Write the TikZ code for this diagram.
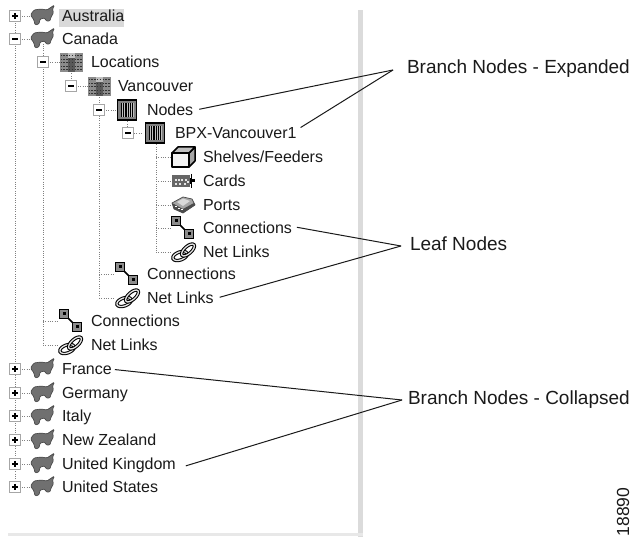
\documentclass[tikz,border=0pt]{standalone}
\usepackage{fontspec}
\setmainfont{Liberation Sans}
\definecolor{ink}{HTML}{1A1A1A}
\definecolor{mapg}{HTML}{707070}
\tikzset{
 x=1pt,y=-1pt,
 tree/.style={draw=black!50,line width=0.8pt,dash pattern=on 1pt off 1.3pt},
 lead/.style={draw=ink,line width=1pt},
 xbox/.style={draw=black!35,fill=white,line width=1pt,minimum size=10.5pt,inner sep=0pt,outer sep=0pt},
 rowtext/.style={anchor=base west,inner sep=0pt,outer sep=0pt,text=ink,font=\fontsize{16}{18}\selectfont},
 calltext/.style={anchor=base west,inner sep=0pt,outer sep=0pt,text=ink,font=\fontsize{19}{21}\selectfont},
 mapicon/.pic={
  \path[fill=mapg,draw=black!70,line width=.7pt,line join=round,rounded corners=1.2pt] (-11.5,-1) -- (-8,-6) -- (-1,-7) -- (5,-6) -- (8,-8) -- (12.5,-11) -- (10.5,-7) -- (11.5,-3) -- (9,1) -- (8,5) -- (4,5) -- (3,2) -- (-2,3) -- (-3,8) -- (-7,9) -- (-8,4) -- cycle;
 },
 bldicon/.pic={
  \fill[black!45] (-11.5,-9) rectangle (-3,10);
  \fill[black!45] (3.5,-9) rectangle (12,10);
  \fill[black!65] (-3,-4) rectangle (3.5,10);
  \fill[black!25] (-3,-9) rectangle (3.5,-4);
  \foreach \a in {-6,-2.5,1,4.5,8}{
   \draw[black!80,line width=1pt,dash pattern=on 1.5pt off 1.3pt] (-10.5,\a) -- (11.5,\a);
  }
 },
 rackicon/.pic={
  \fill[black!50] (-9.5,-10) rectangle (9.5,10);
  \draw[black,line width=1.3pt] (-9.5,-10) rectangle (9.5,10);
  \fill[black!25] (-6.5,-7) rectangle (6.5,7);
  \foreach \a in {-5.4,-3.2,-1,1.2,3.4,5.6}{\draw[black,line width=1.3pt] (\a,-7) -- (\a,7);}
 },
 cubeicon/.pic={
  \path[fill=black!5,draw=black,line width=1.5pt,line join=round] (-11,-4) -- (6,-4) -- (6,10) -- (-11,10) -- cycle;
  \path[fill=black!35,draw=black,line width=1.5pt,line join=round] (6,-4) -- (12,-10) -- (12,4) -- (6,10) -- cycle;
  \path[fill=black!25,draw=black,line width=1.5pt,line join=round] (-11,-4) -- (-5,-10) -- (12,-10) -- (6,-4) -- cycle;
 },
 cardicon/.pic={
  \fill[black!60] (-11,-6) rectangle (7,6);
  \foreach \a/\b in {-8/-2,-5/-2,-2/-2,-8/2,-4/2,2/-2,1/2,4/0}{\fill[black!10] (\a,\b) rectangle ++(1.6,1.6);}
  \fill[black] (7,-3) rectangle (9,3);
  \fill[black] (9,-1.5) rectangle (12,1.5);
  \draw[black,line width=1pt] (8,-7) -- (8,7);
 },
 porticon/.pic={
  \path[fill=black!35,draw=black!70,line width=.7pt,line join=round] (-11,-2) -- (0,-8) -- (9,-6) -- (12,0) -- (0,8) -- (-9,4) -- cycle;
  \path[fill=black!15] (-6,-3) -- (0,-6.5) -- (7,-4) -- (0,1) -- cycle;
  \path[fill=black!70] (-9,4) -- (-11,-2) -- (0,4) -- (0,8) -- cycle;
  \path[fill=black!70] (0,8) -- (12,0) -- (11,-2) -- (0,4) -- cycle;
  \foreach \a/\b in {-8/1,-5/3,-2/4}{\fill[white] (\a,\b) rectangle ++(1.5,1.5);}
 },
 connicon/.pic={
  \draw[black,line width=1.5pt] (-5,-7) -- (8,6);
  \fill[black!45] (-10,-12) rectangle (-1,-3);
  \draw[black,line width=1.3pt] (-9.5,-11.5) rectangle (-.5,-2.5);
  \fill[black] (-6.5,-8.5) rectangle (-3.5,-5.5);
  \fill[black!45] (3.5,1.5) rectangle (12.5,10.5);
  \draw[black,line width=1.3pt] (3.5,1.5) rectangle (12.5,10.5);
  \fill[black] (6.5,4.5) rectangle (9.5,7.5);
 },
 linkicon/.pic={
  \draw[black,line width=3.4pt,shift={(-4,4)},rotate=20] (0,0) ellipse (7.5 and 4);
  \draw[black!10,line width=1.3pt,shift={(-4,4)},rotate=20] (0,0) ellipse (7.5 and 4);
  \draw[black,line width=3.4pt,shift={(4,-2)},rotate=42] (0,0) ellipse (8 and 3.6);
  \draw[black!10,line width=1.3pt,shift={(4,-2)},rotate=42] (0,0) ellipse (8 and 3.6);
 },
}
\newcommand{\xminus}[3]{\node[xbox] (#1) at (#2,#3) {}; \draw[black,line width=1.1pt] (#2-3,#3) -- (#2+3,#3);}
\newcommand{\xplus}[3]{\node[xbox] (#1) at (#2,#3) {}; \draw[black,line width=1.1pt] (#2-3,#3) -- (#2+3,#3) (#2,#3-3) -- (#2,#3+3);}
\begin{document}
\begin{tikzpicture}
\useasboundingbox (0,0) rectangle (633,537);
\fill[white] (0,0) rectangle (633,537);
% panel border
\fill[black!14] (358,10) rectangle (363,537);
\fill[black!9] (8,533.5) rectangle (363,536);
% highlight
\fill[black!15] (59,9) rectangle (124,27);
% tree coordinates
\coordinate (a15) at (15,16); \coordinate (b15) at (15,487);
\coordinate (a43) at (43,39); \coordinate (b43) at (43,345);
\coordinate (a71) at (71,62); \coordinate (b71) at (71,86);
\coordinate (a99) at (99,86); \coordinate (b99) at (99,298);
\coordinate (a127) at (127,110); \coordinate (b127) at (127,133);
\coordinate (a156) at (156,133); \coordinate (b156) at (156,252);
\draw[tree] (a15) -- (b15);
\draw[tree] (a43) -- (b43);
\draw[tree] (a71) -- (b71);
\draw[tree] (a99) -- (b99);
\draw[tree] (a127) -- (b127);
\draw[tree] (a156) -- (b156);
% horizontal dotted stubs
\foreach \x/\y/\e in {15/16/32,15/39/32,15/369/32,15/393/32,15/416/32,15/440/32,15/464/32,15/487/32,
 43/62/60,71/86/88,99/110/117,127/133/142,156/157/171,156/181/171,156/205/171,156/228/171,156/252/171,
 99/274/115,99/298/115,43/321/59,43/345/59}{
 \draw[tree] (\x,\y) -- (\e,\y);
}
% expanders
\xplus{e1}{15}{16}
\xminus{e2}{15}{39}
\xminus{e3}{43}{62}
\xminus{e4}{71}{86}
\xminus{e5}{99}{110}
\xminus{e6}{128}{133}
\xplus{e7}{15}{369}
\xplus{e8}{15}{393}
\xplus{e9}{15}{416}
\xplus{e10}{15}{440}
\xplus{e11}{15}{464}
\xplus{e12}{15}{487}
% icons
\foreach \y in {16,39,369,393,416,440,464,487}{\pic at (42,\y) {mapicon};}
\pic at (71,62) {bldicon};
\pic at (99,86) {bldicon};
\pic at (127,110) {rackicon};
\pic at (155,133) {rackicon};
\pic at (183,157) {cubeicon};
\pic at (183,181) {cardicon};
\pic at (183,205) {porticon};
\pic at (181,228) {connicon};
\pic at (184,252) {linkicon};
\pic at (125,274) {connicon};
\pic at (128,298) {linkicon};
\pic at (69,321) {connicon};
\pic at (71,345) {linkicon};
% row text
\node[rowtext] (tAustralia) at (62,22) {Australia};
\node[rowtext] (tCanada) at (62,45) {Canada};
\node[rowtext] (tLocations) at (91,68) {Locations};
\node[rowtext] (tVancouver) at (118,92) {Vancouver};
\node[rowtext] (tNodes) at (147,116) {Nodes};
\node[rowtext] (tBPX) at (175,139) {BPX-Vancouver1};
\node[rowtext] (tShelves) at (203,163) {Shelves/Feeders};
\node[rowtext] (tCards) at (203,187) {Cards};
\node[rowtext] (tPorts) at (203,211) {Ports};
\node[rowtext] (tConnA) at (203,234) {Connections};
\node[rowtext] (tLinkA) at (203,258) {Net Links};
\node[rowtext] (tConnB) at (147,280) {Connections};
\node[rowtext] (tLinkB) at (147,304) {Net Links};
\node[rowtext] (tConnC) at (91,327) {Connections};
\node[rowtext] (tLinkC) at (91,351) {Net Links};
\node[rowtext] (tFrance) at (62,375) {France};
\node[rowtext] (tGermany) at (62,399) {Germany};
\node[rowtext] (tItaly) at (62,422) {Italy};
\node[rowtext] (tNZ) at (62,446) {New Zealand};
\node[rowtext] (tUK) at (62,470) {United Kingdom};
\node[rowtext] (tUS) at (62,493) {United States};
% call-out labels
\node[calltext] (cExp) at (407,74) {Branch Nodes - Expanded};
\node[calltext] (cLeaf) at (410,251) {Leaf Nodes};
\node[calltext] (cCol) at (408,405) {Branch Nodes - Collapsed};
\node[anchor=base,inner sep=0pt,rotate=90,text=ink,font=\fontsize{17.5}{18}\selectfont] (fig) at (629,512) {18890};
% junctions
\coordinate (jExp) at (393,70);
\coordinate (jLeaf) at (401,246);
\coordinate (jCol) at (402,400);
% leaders
\draw[lead] (tNodes.east) ++(6,-1) -- (jExp);
\draw[lead] (tBPX.east) ++(4,-6) -- (jExp);
\draw[lead] (tConnA.east) ++(5,-1) -- (jLeaf);
\draw[lead] (tLinkB.east) ++(6,-1) -- (jLeaf);
\draw[lead] (tFrance.east) ++(3,0) -- (jCol);
\draw[lead] (tUK.east) ++(10,0) -- (jCol);
\end{tikzpicture}
\end{document}
